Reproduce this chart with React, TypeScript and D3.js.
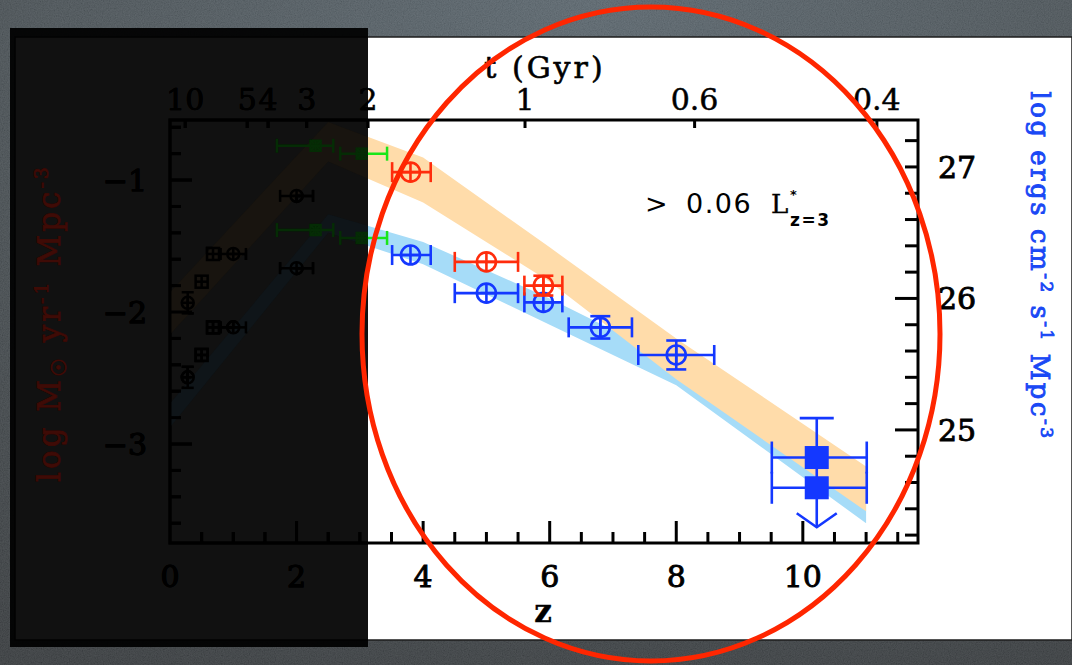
import React from 'react';
import * as d3 from 'd3';

const W = 1072;
const H = 665;

// Bottom axis: redshift
const zMajorTicks = [0, 2, 4, 6, 8, 10];
// Top axis: age of the universe (Gyr) and the redshift it corresponds to
const ageLabels = ['10', '5', '4', '3', '2', '1', '0.6', '0.4'];
const ageAtZ = [0.24, 1.22, 1.55, 2.16, 3.13, 5.61, 8.29, 11.17];
// Left axis: log SFR density; right axis: log UV luminosity density
const sfrTickLabels = [-1, -2, -3];
const lumTickLabels = [27, 26, 25];

// Dust-corrected star formation rate density band (left axis)
const sfrBandZ = [0, 2.5, 4, 6, 8, 11];
const sfrBandHi = [-1.85, -0.56, -0.83, -1.51, -2.2, -3.17];
const sfrBandLo = [-2.17, -0.86, -1.17, -1.77, -2.51, -3.51];
// Observed UV luminosity density band (right axis)
const lumBandZ = [0, 2.5, 4, 6, 8, 11];
const lumBandHi = [25.2, 26.64, 26.43, 26.0, 25.52, 24.47];
const lumBandLo = [25.02, 26.5, 26.26, 25.8, 25.34, 24.29];

// Dropout measurements, dust corrected (left axis)
const dropZ = [3.8, 5.0, 5.9];
const dropZLo = [3.51, 4.5, 5.6];
const dropZHi = [4.12, 5.5, 6.2];
const dropSfr = [-0.94, -1.62, -1.8];
const dropSfrErr = [0, 0, 0.075];

// Dropout measurements, observed luminosity density (right axis)
const lumZ = [3.8, 5.0, 5.9, 6.8, 8.0];
const lumZLo = [3.51, 4.5, 5.6, 6.3, 7.4];
const lumZHi = [4.12, 5.5, 6.2, 7.3, 8.6];
const lumVal = [26.33, 26.04, 25.97, 25.78, 25.57];
const lumErr = [0, 0, 0.07, 0.085, 0.11];

// z ~ 10 estimate and upper limit (right axis)
const z10 = [10.22];
const z10Lo = [9.51];
const z10Hi = [11.01];
const z10Val = [24.79];
const z10Top = [25.09];
const z10Limit = [24.56];
const z10LimitTip = [24.26];

// Low-redshift compilation (upper set on left axis, lower set on right axis)
const lowZ = [0.28, 0.5, 0.68, 1.0, 2.0];
const lowZLo = [0.28, 0.5, 0.68, 0.8, 1.74];
const lowZHi = [0.28, 0.5, 0.68, 1.2, 2.26];
const lowShape = ['circle', 'square', 'square', 'circle', 'circle'];
const lowSfr = [-1.93, -1.77, -1.56, -1.56, -1.12];
const lowLum = [25.4, 25.57, 25.78, 25.78, 26.23];
const lowErr = [0.08, 0, 0, 0, 0];

// z ~ 2-3 measurements
const midZ = [2.3, 3.03];
const midZLo = [1.69, 2.69];
const midZHi = [2.58, 3.43];
const midSfr = [-0.74, -0.8];
const midLum = [26.52, 26.46];

const serif = '"DejaVu Serif", serif';
const sans = '"DejaVu Sans", sans-serif';

type Palette = {
  ink: string;
  orange: string;
  blueBand: string;
  green: string;
  red: string;
  blue: string;
  leftTitle: string;
  rightTitle: string;
};

const bright: Palette = {
  ink: '#000',
  orange: '#ffdcaa',
  blueBand: '#a6dcf8',
  green: '#19e619',
  red: '#ff2c0c',
  blue: '#1438ff',
  leftTitle: '#b01e10',
  rightTitle: '#1a48f5',
};

const dimmed: Palette = {
  ink: '#000',
  orange: '#18140f',
  blueBand: '#0f1519',
  green: '#052c05',
  red: '#3a0800',
  blue: '#060b34',
  leftTitle: '#3f0b06',
  rightTitle: '#06103a',
};

const x = d3.scaleLinear().domain([0, 11.82]).range([170, 918]);
const yL = d3.scaleLinear().domain([-0.545, -3.75]).range([120, 543]);
const yR = d3.scaleLinear().domain([27.357, 24.14]).range([120, 543]);
const [X0, X1] = x.range();
const [Y0, Y1] = yL.range();

function bandPath(zs: number[], lo: number[], hi: number[], y: d3.ScaleLinear<number, number>) {
  return (
    d3
      .area<number>()
      .x((i) => x(zs[i]))
      .y0((i) => y(lo[i]))
      .y1((i) => y(hi[i]))(d3.range(zs.length)) || ''
  );
}

type PtProps = {
  cx: number;
  cy: number;
  xl: number;
  xr: number;
  yt: number;
  yb: number;
  color: string;
  shape: string;
  size: number;
  cap: number;
  sw: number;
};

function ErrPoint({ cx, cy, xl, xr, yt, yb, color, shape, size, cap, sw }: PtProps) {
  const r = size;
  return (
    <g stroke={color} strokeWidth={sw} fill="none">
      {xr - xl > 0.5 && <line x1={xl} x2={xr} y1={cy} y2={cy} />}
      {xr - xl > 0.5 && <line x1={xl} x2={xl} y1={cy - cap} y2={cy + cap} />}
      {xr - xl > 0.5 && <line x1={xr} x2={xr} y1={cy - cap} y2={cy + cap} />}
      {yb - yt > 2 * r + 0.5 && <line x1={cx} x2={cx} y1={yt} y2={yb} />}
      {yb - yt > 2 * r + 0.5 && <line x1={cx - cap} x2={cx + cap} y1={yt} y2={yt} />}
      {yb - yt > 2 * r + 0.5 && <line x1={cx - cap} x2={cx + cap} y1={yb} y2={yb} />}
      {shape === 'circle' && <circle cx={cx} cy={cy} r={r} />}
      {shape === 'square' && <rect x={cx - r} y={cy - r} width={2 * r} height={2 * r} />}
      {shape === 'boxx' && (
        <g>
          <rect x={cx - r} y={cy - r} width={2 * r} height={2 * r} />
          <line x1={cx - r} x2={cx + r} y1={cy - r} y2={cy + r} />
          <line x1={cx - r} x2={cx + r} y1={cy + r} y2={cy - r} />
        </g>
      )}
      <line x1={cx} x2={cx} y1={cy - r} y2={cy + r} />
      <line x1={cx - r} x2={cx + r} y1={cy} y2={cy} />
    </g>
  );
}

function Chart({ p }: { p: Palette }) {
  const zMinor = d3.range(1, 24).map((k) => k / 2);
  const leftMinor = d3.range(3, 19).map((k) => -k / 5);
  const rightMinor = d3.range(121, 137).map((k) => k / 5);

  return (
    <g>
      <g clipPath="url(#plotArea)">
        <path d={bandPath(lumBandZ, lumBandLo, lumBandHi, yR)} fill={p.blueBand} />
        <path d={bandPath(sfrBandZ, sfrBandLo, sfrBandHi, yL)} fill={p.orange} />
      </g>

      {/* low-redshift compilation */}
      {lowZ.map((z, i) => (
        <g key={`low${i}`}>
          <ErrPoint
            cx={x(z)}
            cy={yL(lowSfr[i])}
            xl={x(lowZLo[i])}
            xr={x(lowZHi[i])}
            yt={yL(lowSfr[i] + lowErr[i])}
            yb={yL(lowSfr[i] - lowErr[i])}
            color={p.ink}
            shape={lowShape[i]}
            size={6}
            cap={6}
            sw={2.5}
          />
          <ErrPoint
            cx={x(z)}
            cy={yR(lowLum[i])}
            xl={x(lowZLo[i])}
            xr={x(lowZHi[i])}
            yt={yR(lowLum[i] + lowErr[i])}
            yb={yR(lowLum[i] - lowErr[i])}
            color={p.ink}
            shape={lowShape[i]}
            size={6}
            cap={6}
            sw={2.5}
          />
        </g>
      ))}

      {/* z ~ 2-3 */}
      {midZ.map((z, i) => (
        <g key={`mid${i}`}>
          {[yL(midSfr[i]), yR(midLum[i])].map((cy, j) => (
            <ErrPoint
              key={j}
              cx={x(z)}
              cy={cy}
              xl={x(midZLo[i])}
              xr={x(midZHi[i])}
              yt={cy}
              yb={cy}
              color={p.green}
              shape="boxx"
              size={5}
              cap={7}
              sw={2.5}
            />
          ))}
        </g>
      ))}

      {/* luminosity density points */}
      {lumZ.map((z, i) => (
        <ErrPoint
          key={`lum${i}`}
          cx={x(z)}
          cy={yR(lumVal[i])}
          xl={x(lumZLo[i])}
          xr={x(lumZHi[i])}
          yt={yR(lumVal[i] + lumErr[i])}
          yb={yR(lumVal[i] - lumErr[i])}
          color={p.blue}
          shape="circle"
          size={9.5}
          cap={10}
          sw={2.6}
        />
      ))}

      {/* star formation rate density points */}
      {dropZ.map((z, i) => (
        <ErrPoint
          key={`sfr${i}`}
          cx={x(z)}
          cy={yL(dropSfr[i])}
          xl={x(dropZLo[i])}
          xr={x(dropZHi[i])}
          yt={yL(dropSfr[i] + dropSfrErr[i])}
          yb={yL(dropSfr[i] - dropSfrErr[i])}
          color={p.red}
          shape="circle"
          size={9.5}
          cap={10}
          sw={2.6}
        />
      ))}

      {/* z ~ 10 estimate and upper limit */}
      {z10.map((z, i) => {
        const cx = x(z);
        const cy1 = yR(z10Val[i]);
        const cy2 = yR(z10Limit[i]);
        const tip = yR(z10LimitTip[i]);
        const top = yR(z10Top[i]);
        return (
          <g key={`z10${i}`} stroke={p.blue} strokeWidth={2.6} fill="none">
            <line x1={cx} x2={cx} y1={top} y2={tip} />
            <line x1={cx - 17} x2={cx + 17} y1={top} y2={top} />
            <polyline points={`${cx - 20},${tip - 14} ${cx},${tip} ${cx + 20},${tip - 14}`} />
            {[cy1, cy2].map((cy, j) => (
              <g key={j}>
                <line x1={x(z10Lo[i])} x2={x(z10Hi[i])} y1={cy} y2={cy} />
                <line x1={x(z10Lo[i])} x2={x(z10Lo[i])} y1={cy - 16} y2={cy + 16} />
                <line x1={x(z10Hi[i])} x2={x(z10Hi[i])} y1={cy - 16} y2={cy + 16} />
                <rect x={cx - 12} y={cy - 11.5} width={24} height={23} fill={p.blue} stroke="none" />
              </g>
            ))}
          </g>
        );
      })}

      {/* frame and ticks */}
      <g stroke={p.ink} strokeWidth={3} fill="none">
        <rect x={X0} y={Y0} width={X1 - X0} height={Y1 - Y0} />
        {zMinor.map((z) => (
          <line key={`zb${z}`} x1={x(z)} x2={x(z)} y1={Y1} y2={Y1 - (z % 2 === 0 ? 22 : 11)} />
        ))}
        {ageAtZ.map((z, i) => (
          <line key={`zt${i}`} x1={x(z)} x2={x(z)} y1={Y0} y2={Y0 + 8} />
        ))}
        {leftMinor.map((v) => (
          <line
            key={`yl${v}`}
            x1={X0}
            x2={X0 + (Number.isInteger(v) ? 22 : 11)}
            y1={yL(v)}
            y2={yL(v)}
          />
        ))}
        {rightMinor.map((v) => (
          <line
            key={`yr${v}`}
            x1={X1}
            x2={X1 - (Number.isInteger(v) && v < 27 ? 23 : 13)}
            y1={yR(v)}
            y2={yR(v)}
          />
        ))}
      </g>

      {/* tick labels */}
      <g fontFamily={serif} fontSize={30} fill={p.ink} stroke={p.ink} strokeWidth={0.9}>
        {zMajorTicks.map((z) => (
          <text key={`lz${z}`} x={x(z)} y={587} textAnchor="middle">
            {z}
          </text>
        ))}
        {ageLabels.map((t, i) => (
          <text key={`la${i}`} x={x(ageAtZ[i])} y={110} textAnchor="middle" strokeWidth={0.5}>
            {t}
          </text>
        ))}
        {sfrTickLabels.map((v) => (
          <text key={`ll${v}`} x={147} y={yL(v) + 11} textAnchor="end">
            {'\u2212' + Math.abs(v)}
          </text>
        ))}
        {lumTickLabels.map((v) => (
          <text key={`lr${v}`} x={938} y={yR(v) + 11} textAnchor="start">
            {v}
          </text>
        ))}
        <text x={545} y={78} textAnchor="middle" letterSpacing={3} strokeWidth={0.6}>
          t (Gyr)
        </text>
        <text x={543} y={622} textAnchor="middle" fontWeight="bold" fontSize={31} strokeWidth={0.4}>
          z
        </text>
      </g>

      {/* axis titles */}
      <text
        transform="translate(60,323) rotate(-90)"
        textAnchor="middle"
        fontFamily={serif}
        fontSize={31}
        letterSpacing={3}
        fill={p.leftTitle}
        stroke={p.leftTitle}
        strokeWidth={0.8}
      >
        log M<tspan fontFamily={sans} fontSize={21} dy={6}>{'\u2609'}</tspan>
        <tspan dy={-6}> yr</tspan>
        <tspan fontSize={19} dy={-12}>-1</tspan>
        <tspan dy={12}> Mpc</tspan>
        <tspan fontSize={19} dy={-12}>-3</tspan>
      </text>
      <text
        transform="translate(1031,266) rotate(90)"
        textAnchor="middle"
        fontFamily={serif}
        fontSize={26}
        letterSpacing={2.5}
        fill={p.rightTitle}
        stroke={p.rightTitle}
        strokeWidth={0.9}
      >
        log ergs cm<tspan fontSize={17} dy={-10}>-2</tspan>
        <tspan dy={10}> s</tspan>
        <tspan fontSize={17} dy={-10}>-1</tspan>
        <tspan dy={10}> Mpc</tspan>
        <tspan fontSize={17} dy={-10}>-3</tspan>
      </text>

      {/* luminosity threshold */}
      <g fill={p.ink}>
        <text x={645} y={213} fontFamily={sans} fontSize={27}>
          &gt;
        </text>
        <text x={686} y={213} fontFamily={sans} fontSize={27} letterSpacing={1.5}>
          0.06
        </text>
        <text x={771} y={213} fontFamily={serif} fontSize={26} stroke={p.ink} strokeWidth={0.4}>
          L
        </text>
        <text x={790} y={199} fontFamily={sans} fontSize={13} fontWeight="bold">
          *
        </text>
        <text x={790} y={226} fontFamily={sans} fontSize={17} fontWeight="bold" letterSpacing={1.5}>
          z=3
        </text>
      </g>
    </g>
  );
}

export default function App() {
  return (
    <svg
      width={W}
      height={H}
      viewBox={`0 0 ${W} ${H}`}
      style={{ position: 'absolute', left: 0, top: 0, display: 'block' }}
    >
      <defs>
        <radialGradient id="slate" cx="0.55" cy="0" r="1.1">
          <stop offset="0" stopColor="#56626a" />
          <stop offset="0.6" stopColor="#3f464a" />
          <stop offset="1" stopColor="#313538" />
        </radialGradient>
        <filter id="grain" x="0" y="0" width="100%" height="100%">
          <feTurbulence type="fractalNoise" baseFrequency="0.85" numOctaves="2" seed="4" />
          <feColorMatrix type="matrix" values="1 0 0 0 0  1 0 0 0 0  1 0 0 0 0  0 0 0 0 0.14" />
        </filter>
        <clipPath id="plotArea">
          <rect x={X0} y={Y0} width={X1 - X0} height={Y1 - Y0} />
        </clipPath>
        <clipPath id="shade">
          <rect x={15} y={37} width={353} height={603} />
        </clipPath>
      </defs>

      {/* slide background */}
      <rect width={W} height={H} fill="url(#slate)" />
      <rect width={W} height={H} filter="url(#grain)" />

      {/* white figure panel */}
      <rect x={15} y={37} width={W - 15} height={603} fill="#fff" stroke="#1c1c1c" strokeWidth={1.5} />
      <Chart p={bright} />

      {/* shaded left portion */}
      <rect x={10} y={28} width={358} height={619} fill="#000" opacity={0.933} />
      <g clipPath="url(#shade)">
        <Chart p={dimmed} />
      </g>

      {/* highlight ellipse */}
      <ellipse cx={651} cy={334} rx={289} ry={327} fill="none" stroke="#ff2600" strokeWidth={5} />
    </svg>
  );
}
